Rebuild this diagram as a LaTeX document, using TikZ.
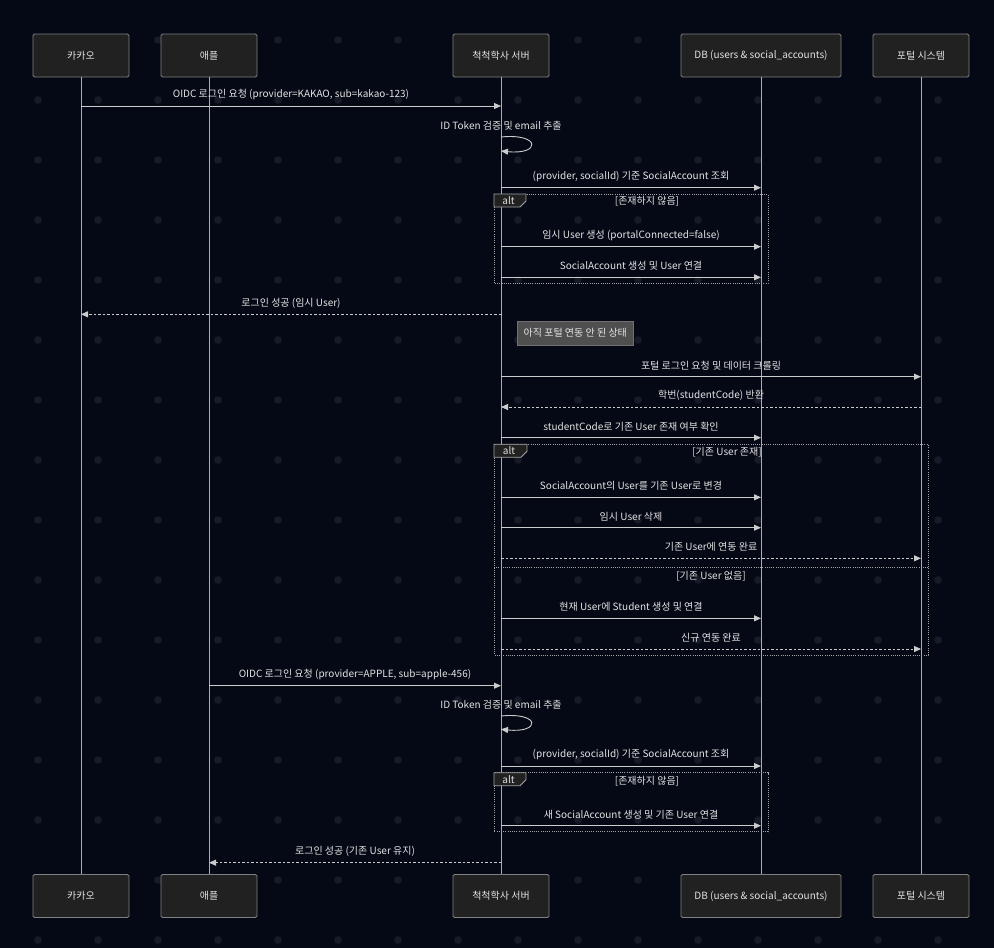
\documentclass[tikz,border=0pt]{standalone}
\usepackage{fontspec}
\setmainfont{Noto Sans CJK KR}
\usetikzlibrary{arrows.meta}
\definecolor{bg}{HTML}{050915}
\definecolor{dotc}{HTML}{161B27}
\definecolor{actfill}{HTML}{212121}
\definecolor{actline}{HTML}{808080}
\definecolor{txt}{HTML}{E3E3E3}
\definecolor{ln}{HTML}{CCCCCC}
\definecolor{notefill}{HTML}{4F4F4F}
\definecolor{noteline}{HTML}{707070}
\tikzset{
  actor/.style={draw=actline, fill=actfill, rounded corners=1.5pt, minimum height=43pt, minimum width=96pt, text=txt, font=\fontsize{10}{12}\selectfont, line width=0.8pt, inner sep=0pt},
  msg/.style={draw=ln, line width=0.9pt, -{Triangle[length=7pt,width=6pt]}},
  ret/.style={msg, dash pattern=on 2.5pt off 2pt},
  lbl/.style={text=txt, font=\fontsize{10}{12}\selectfont, inner sep=0pt},
  mlbl/.style={lbl, midway, yshift=11.3pt},
  life/.style={draw=ln!85!black, line width=0.8pt},
  altbox/.style={draw=ln!80!black, line width=0.8pt, dash pattern=on 1pt off 1.2pt},
  alttab/.style={draw=ln!80!black, fill=actfill, line width=0.8pt},
  notebox/.style={draw=noteline, fill=notefill, text=txt, font=\fontsize{10}{12}\selectfont, minimum width=116pt, minimum height=24pt, inner sep=0pt, line width=0.8pt}
}
\begin{document}
\begin{tikzpicture}[x=1pt,y=-1pt]
\fill[bg] (0,0) rectangle (994,948);
\useasboundingbox (0,0) rectangle (994,948);
% dot grid
\foreach \i in {0,...,16}{
  \foreach \j in {0,...,15}{
    \fill[dotc] (38+60*\i,40+60*\j) circle (3.8pt);
  }
}
% actors
\node[actor] (kakao) at (81,55.5) {카카오};
\node[actor] (apple) at (209,55.5) {애플};
\node[actor] (srv) at (501,55.5) {척척학사 서버};
\node[actor, minimum width=160pt] (db) at (761,55.5) {DB (users \& social\_accounts)};
\node[actor] (portal) at (921,55.5) {포털 시스템};
\node[actor] (kakaob) at (81,896) {카카오};
\node[actor] (appleb) at (209,896) {애플};
\node[actor] (srvb) at (501,896) {척척학사 서버};
\node[actor, minimum width=160pt] (dbb) at (761,896) {DB (users \& social\_accounts)};
\node[actor] (portalb) at (921,896) {포털 시스템};
% lifelines
\draw[life] (kakao.south) -- (kakaob.north);
\draw[life] (apple.south) -- (appleb.north);
\draw[life] (srv.south) -- (srvb.north);
\draw[life] (db.south) -- (dbb.north);
\draw[life] (portal.south) -- (portalb.north);
% alt frame 1
\draw[altbox] (494,194) rectangle (768,283.3);
\draw[alttab] (494,194) -- (526,194) -- (526,201) -- (520,207) -- (494,207) -- cycle;
\node[lbl] (alt1) at (508.5,200.5) {alt};
\node[lbl] (c1) at (647,201.7) {[존재하지 않음]};
% alt frame 2
\draw[altbox] (494,444.3) rectangle (928,655);
\draw[altbox] (494,567.3) -- (928,567.3);
\draw[alttab] (494,444.3) -- (527,444.3) -- (527,451.3) -- (521,457.3) -- (494,457.3) -- cycle;
\node[lbl] (alt2) at (509,450.8) {alt};
\node[lbl] (c2) at (727,452.7) {[기존 User 존재]};
\node[lbl] (c3) at (711,576) {[기존 User 없음]};
% alt frame 3
\draw[altbox] (494,772.7) rectangle (768,831.7);
\draw[alttab] (494,772.7) -- (526,772.7) -- (526,779.7) -- (520,785.7) -- (494,785.7) -- cycle;
\node[lbl] (alt3) at (508.5,779.2) {alt};
\node[lbl] (c4) at (647,781.7) {[존재하지 않음]};
% row coordinates
\coordinate (r1) at (0,106);
\coordinate (s1a) at (0,137);
\coordinate (s1b) at (0,151);
\coordinate (r3) at (0,187.7);
\coordinate (r5) at (0,246.7);
\coordinate (r6) at (0,277.3);
\coordinate (r7) at (0,314.3);
\coordinate (r9) at (0,376.7);
\coordinate (r10) at (0,407);
\coordinate (r11) at (0,437.7);
\coordinate (r13) at (0,497.3);
\coordinate (r14) at (0,527.7);
\coordinate (r15) at (0,558.3);
\coordinate (r18) at (0,618.3);
\coordinate (r19) at (0,649);
\coordinate (r20) at (0,685.7);
\coordinate (s2a) at (0,716);
\coordinate (s2b) at (0,729.3);
\coordinate (r22) at (0,766);
\coordinate (r24) at (0,825.7);
\coordinate (r25) at (0,862.7);
% messages
\draw[msg] (kakao |- r1) -- (srv |- r1) node[mlbl] {OIDC 로그인 요청 (provider=KAKAO, sub=kakao-123)};
\node[lbl] (t1) at (501,125.7) {ID Token 검증 및 email 추출};
\draw[msg] (srv |- s1a) .. controls +(40,-4) and +(40,4) .. (srv |- s1b);
\draw[msg] (srv |- r3) -- (db |- r3) node[mlbl] {(provider, socialId) 기준 SocialAccount 조회};
\draw[msg] (srv |- r5) -- (db |- r5) node[mlbl] {임시 User 생성 (portalConnected=false)};
\draw[msg] (srv |- r6) -- (db |- r6) node[mlbl] {SocialAccount 생성 및 User 연결};
\draw[ret] (srv |- r7) -- (kakao |- r7) node[mlbl] {로그인 성공 (임시 User)};
\node[notebox] (note) at (575.3,333.2) {아직 포털 연동 안 된 상태};
\draw[msg] (srv |- r9) -- (portal |- r9) node[mlbl] {포털 로그인 요청 및 데이터 크롤링};
\draw[ret] (portal |- r10) -- (srv |- r10) node[mlbl] {학번(studentCode) 반환};
\draw[msg] (srv |- r11) -- (db |- r11) node[mlbl] {studentCode로 기존 User 존재 여부 확인};
\draw[msg] (srv |- r13) -- (db |- r13) node[mlbl] {SocialAccount의 User를 기존 User로 변경};
\draw[msg] (srv |- r14) -- (db |- r14) node[mlbl] {임시 User 삭제};
\draw[ret] (srv |- r15) -- (portal |- r15) node[mlbl] {기존 User에 연동 완료};
\draw[msg] (srv |- r18) -- (db |- r18) node[mlbl] {현재 User에 Student 생성 및 연결};
\draw[ret] (srv |- r19) -- (portal |- r19) node[mlbl] {신규 연동 완료};
\draw[msg] (apple |- r20) -- (srv |- r20) node[mlbl] {OIDC 로그인 요청 (provider=APPLE, sub=apple-456)};
\node[lbl] (t2) at (501,705) {ID Token 검증 및 email 추출};
\draw[msg] (srv |- s2a) .. controls +(40,-4) and +(40,4) .. (srv |- s2b);
\draw[msg] (srv |- r22) -- (db |- r22) node[mlbl] {(provider, socialId) 기준 SocialAccount 조회};
\draw[msg] (srv |- r24) -- (db |- r24) node[mlbl] {새 SocialAccount 생성 및 기존 User 연결};
\draw[ret] (srv |- r25) -- (apple |- r25) node[mlbl] {로그인 성공 (기존 User 유지)};
\end{tikzpicture}
\end{document}
